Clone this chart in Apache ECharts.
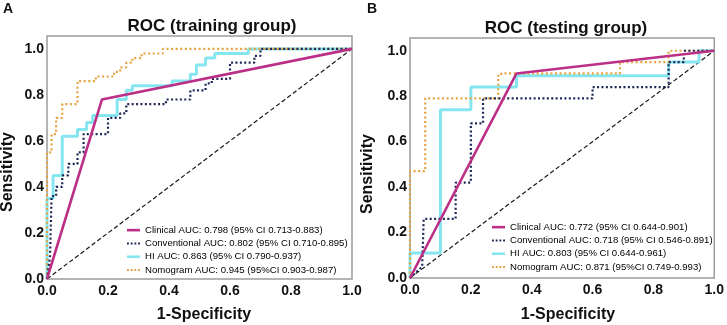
<!DOCTYPE html>
<html>
<head>
<meta charset="utf-8">
<script src="https://cdn.jsdelivr.net/npm/echarts@6/dist/echarts.min.js"></script>
<style>
html, body { margin: 0; padding: 0; background: #fff; }
#roc { width: 727px; height: 325px; }
</style>
</head>
<body>
<div id="roc"></div>
<script>
var myChart = echarts.init(document.getElementById('roc'));

// tick labels
const tickValues = [0, 0.2, 0.4, 0.6, 0.8, 1.0];

// legend names
const namesA = [
	'Clinical AUC: 0.798 (95% CI 0.713-0.883)',
	'Conventional AUC: 0.802 (95% CI 0.710-0.895)',
	'HI AUC: 0.863 (95% CI 0.790-0.937)',
	'Nomogram AUC: 0.945 (95%CI 0.903-0.987)'
];
const namesB = [
	'Clinical AUC: 0.772 (95% CI 0.644-0.901)',
	'Conventional AUC: 0.718 (95% CI 0.546-0.891)',
	'HI AUC: 0.803 (95% CI 0.644-0.961)',
	'Nomogram AUC: 0.871 (95%CI 0.749-0.993)'
];

// training group curves, [1-specificity, sensitivity]
const clinicalA = [[0, 0], [0.18, 0.78], [1, 1]];
const conventionalA = [[0, 0], [0.01, 0.1], [0.015, 0.36], [0.03, 0.36], [0.03, 0.4], [0.05, 0.4], [0.05, 0.45],
	[0.07, 0.45], [0.07, 0.5], [0.1, 0.5], [0.1, 0.55], [0.12, 0.55], [0.12, 0.63], [0.2, 0.63], [0.2, 0.7],
	[0.24, 0.7], [0.24, 0.72], [0.26, 0.72], [0.26, 0.76], [0.39, 0.76], [0.39, 0.78], [0.47, 0.78], [0.47, 0.82],
	[0.52, 0.82], [0.52, 0.85], [0.54, 0.85], [0.54, 0.87], [0.6, 0.87], [0.6, 0.94], [0.68, 0.94], [0.68, 0.97],
	[0.7, 0.97], [0.7, 1], [1, 1]];
const hiA = [[0, 0], [0, 0.35], [0.02, 0.35], [0.02, 0.45], [0.05, 0.45], [0.05, 0.62], [0.1, 0.62], [0.1, 0.65],
	[0.13, 0.65], [0.13, 0.68], [0.15, 0.68], [0.15, 0.71], [0.23, 0.71], [0.23, 0.78], [0.26, 0.78], [0.26, 0.82],
	[0.28, 0.82], [0.28, 0.84], [0.41, 0.84], [0.41, 0.86], [0.47, 0.86], [0.47, 0.89], [0.49, 0.89], [0.49, 0.93],
	[0.52, 0.93], [0.52, 0.96], [0.55, 0.96], [0.55, 0.98], [0.66, 0.98], [0.66, 1], [1, 1]];
const nomogramA = [[0, 0], [0, 0.55], [0.015, 0.55], [0.015, 0.63], [0.03, 0.63], [0.03, 0.7], [0.05, 0.7],
	[0.05, 0.76], [0.1, 0.76], [0.1, 0.86], [0.16, 0.86], [0.16, 0.88], [0.22, 0.88], [0.22, 0.9], [0.24, 0.9],
	[0.24, 0.92], [0.26, 0.92], [0.26, 0.94], [0.28, 0.94], [0.28, 0.96], [0.31, 0.96], [0.31, 0.98], [0.38, 0.98],
	[0.38, 1], [1, 1]];

// testing group curves
const clinicalB = [[0, 0], [0.35, 0.9], [1, 1]];
const conventionalB = [[0, 0], [0.04, 0.05], [0.045, 0.05], [0.045, 0.26], [0.15, 0.26], [0.15, 0.42], [0.2, 0.42],
	[0.2, 0.68], [0.24, 0.68], [0.24, 0.79], [0.6, 0.79], [0.6, 0.84], [0.85, 0.84], [0.85, 0.95], [0.9, 0.95],
	[0.9, 1], [1, 1]];
const hiB = [[0, 0], [0, 0.11], [0.1, 0.11], [0.1, 0.74], [0.2, 0.74], [0.2, 0.84], [0.35, 0.84], [0.35, 0.89],
	[0.85, 0.89], [0.85, 0.95], [0.95, 0.95], [0.95, 1], [1, 1]];
const nomogramB = [[0, 0], [0, 0.47], [0.05, 0.47], [0.05, 0.79], [0.29, 0.79], [0.29, 0.89], [0.3, 0.89],
	[0.3, 0.9], [0.69, 0.9], [0.69, 0.95], [0.85, 0.95], [0.85, 1], [1, 1]];

const diagonal = [[0, 0], [1, 1]];

var FONT = '"Liberation Sans", Arial, sans-serif';
var colors = {
	clinical: '#bc2f86',
	conventional: '#1d2656',
	hi: '#86e6ef',
	nomogram: '#e6a23e'
};
// legend swatches: a bar for solid lines, small squares for dotted ones
var DOTS = 'path://M0,0h2v2h-2zM4,0h2v2h-2zM8,0h2v2h-2zM12,0h2v2h-2z';

function xAxisFor(idx) {
	return {
		type: 'value', gridIndex: idx, min: 0, max: 1,
		axisLine: { show: false }, axisTick: { show: false }, splitLine: { show: false },
		axisLabel: {
			customValues: tickValues, margin: 5,
			formatter: function (v) { return v.toFixed(1); },
			color: '#111', fontSize: 14, fontWeight: 'bold', fontFamily: FONT
		}
	};
}
function yAxisFor(idx) {
	return {
		type: 'value', gridIndex: idx, min: 0, max: 1.056,
		axisLine: { show: false }, axisTick: { show: false }, splitLine: { show: false },
		axisLabel: {
			customValues: tickValues, margin: 3,
			formatter: function (v) { return v.toFixed(1); },
			color: '#111', fontSize: 14, fontWeight: 'bold', fontFamily: FONT
		}
	};
}

function curves(idx, names, cl, cv, hi, nm) {
	return [{
		name: 'diag' + idx, type: 'line', xAxisIndex: idx, yAxisIndex: idx, symbol: 'none',
		lineStyle: { color: '#1a1a1a', width: 1.2, type: [4.5, 2.5] }, data: diagonal
	}, {
		name: names[2], type: 'line', xAxisIndex: idx, yAxisIndex: idx, symbol: 'none',
		itemStyle: { color: colors.hi }, lineStyle: { color: colors.hi, width: 3 }, data: hi
	}, {
		name: names[3], type: 'line', xAxisIndex: idx, yAxisIndex: idx, symbol: 'none',
		itemStyle: { color: colors.nomogram }, lineStyle: { color: colors.nomogram, width: 2.2, type: [2, 2.6] }, data: nm
	}, {
		name: names[1], type: 'line', xAxisIndex: idx, yAxisIndex: idx, symbol: 'none',
		itemStyle: { color: colors.conventional }, lineStyle: { color: colors.conventional, width: 2.2, type: [2, 2.4] }, data: cv
	}, {
		name: names[0], type: 'line', xAxisIndex: idx, yAxisIndex: idx, symbol: 'none',
		itemStyle: { color: colors.clinical }, lineStyle: { color: colors.clinical, width: 2.6 }, data: cl
	}];
}

function legendFor(names, left, top) {
	return {
		data: [
			{ name: names[0], icon: 'rect' },
			{ name: names[1], icon: DOTS },
			{ name: names[2], icon: 'rect' },
			{ name: names[3], icon: DOTS }
		],
		orient: 'vertical', left: left, top: top, padding: 0,
		itemWidth: 13, itemHeight: 2.6, itemGap: 0, selectedMode: false,
		textStyle: { fontSize: 9.6, lineHeight: 13.3, color: '#000', fontFamily: FONT }
	};
}

myChart.setOption({
	animation: false,
	backgroundColor: '#fff',
	title: [{
		text: 'ROC (training group)', left: 212, top: 18, textAlign: 'center', padding: 0,
		textStyle: { fontSize: 17, fontWeight: 'bold', color: '#111', fontFamily: FONT }
	}, {
		text: 'ROC (testing group)', left: 566, top: 20, textAlign: 'center', padding: 0,
		textStyle: { fontSize: 17, fontWeight: 'bold', color: '#111', fontFamily: FONT }
	}],
	grid: [
		{ left: 47, right: 375, top: 36, bottom: 46, show: true, borderColor: '#9c9c9c', borderWidth: 1.5 },
		{ left: 410, right: 10, top: 38, bottom: 47, show: true, borderColor: '#9c9c9c', borderWidth: 1.5 }
	],
	xAxis: [xAxisFor(0), xAxisFor(1)],
	yAxis: [yAxisFor(0), yAxisFor(1)],
	legend: [legendFor(namesA, 127, 223.5), legendFor(namesB, 492, 220.5)],
	graphic: [
		{ type: 'text', x: 3, y: 2, style: { text: 'A', font: 'bold 14px ' + FONT, fill: '#111' } },
		{ type: 'text', x: 367, y: 2, style: { text: 'B', font: 'bold 14px ' + FONT, fill: '#111' } },
		{ type: 'text', x: 204, y: 315, style: { text: '1-Specificity', font: 'bold 16px ' + FONT, fill: '#111', align: 'center', verticalAlign: 'middle' } },
		{ type: 'text', x: 568, y: 315, style: { text: '1-Specificity', font: 'bold 16px ' + FONT, fill: '#111', align: 'center', verticalAlign: 'middle' } },
		{ type: 'text', x: 8, y: 172, rotation: Math.PI / 2, style: { text: 'Sensitivity', font: 'bold 16px ' + FONT, fill: '#111', align: 'center', verticalAlign: 'middle' } },
		{ type: 'text', x: 368, y: 174, rotation: Math.PI / 2, style: { text: 'Sensitivity', font: 'bold 16px ' + FONT, fill: '#111', align: 'center', verticalAlign: 'middle' } }
	],
	series: curves(0, namesA, clinicalA, conventionalA, hiA, nomogramA)
		.concat(curves(1, namesB, clinicalB, conventionalB, hiB, nomogramB))
});
</script>
</body>
</html>
